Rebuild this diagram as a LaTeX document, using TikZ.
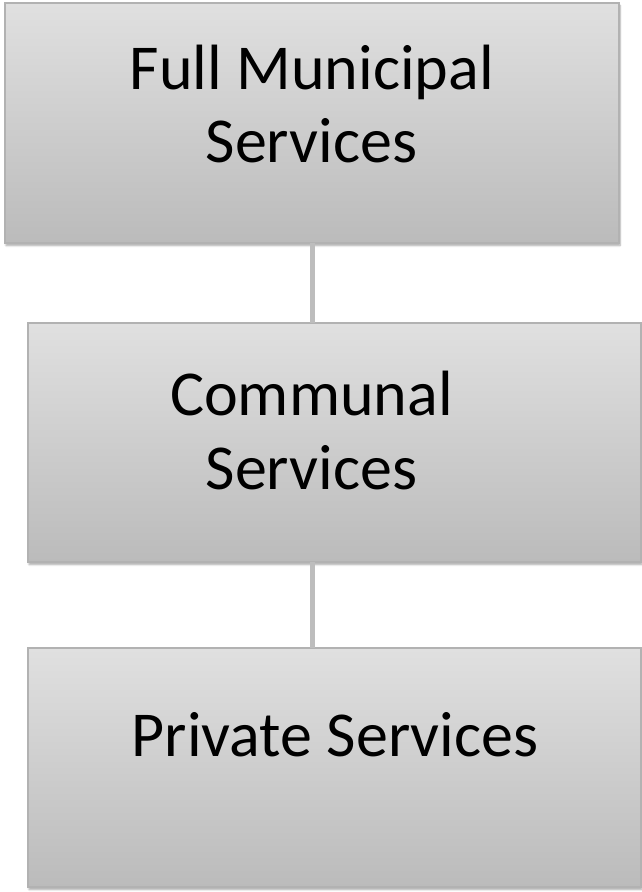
\documentclass[tikz,border=0pt]{standalone}
\usepackage{fontspec}
\setmainfont{Carlito}
\usetikzlibrary{shadows.blur}
\definecolor{boxtop}{HTML}{E0E0E0}
\definecolor{boxbot}{HTML}{BBBBBB}
\definecolor{boxline}{HTML}{B2B2B2}
\definecolor{connline}{HTML}{BDBDBD}
\tikzset{
  boxstyle/.style={draw=boxline, line width=1.2pt, top color=boxtop, bottom color=boxbot,
    blur shadow={shadow xshift=1pt, shadow yshift=-2.5pt, shadow blur steps=6, shadow opacity=35}},
  lbl/.style={font=\fontsize{64}{73}\selectfont, text=black, inner sep=0pt, anchor=base},
  conn/.style={draw=connline, line width=5.5pt}
}
\begin{document}
\begin{tikzpicture}[x=1pt,y=-1pt]
\useasboundingbox (0,0) rectangle (642,892);
\path[boxstyle] (5,3) rectangle (619,243);
\path[boxstyle] (28,323) rectangle (641,562);
\path[boxstyle] (28,648) rectangle (641,887);
\coordinate (b1s) at (312.5,243);
\coordinate (b2n) at (312.5,323);
\coordinate (b2s) at (312.5,562);
\coordinate (b3n) at (312.5,648);
\draw[conn] (b1s) -- (b2n);
\draw[conn] (b2s) -- (b3n);
\node[lbl] (t1a) at (312,89) {Full Municipal};
\node[lbl] (t1b) at (311.5,162) {Services};
\node[lbl] (t2a) at (311.5,415) {Communal};
\node[lbl] (t2b) at (311.5,489) {Services};
\node[lbl] (t3) at (335,756) {Private Services};
\end{tikzpicture}
\end{document}
